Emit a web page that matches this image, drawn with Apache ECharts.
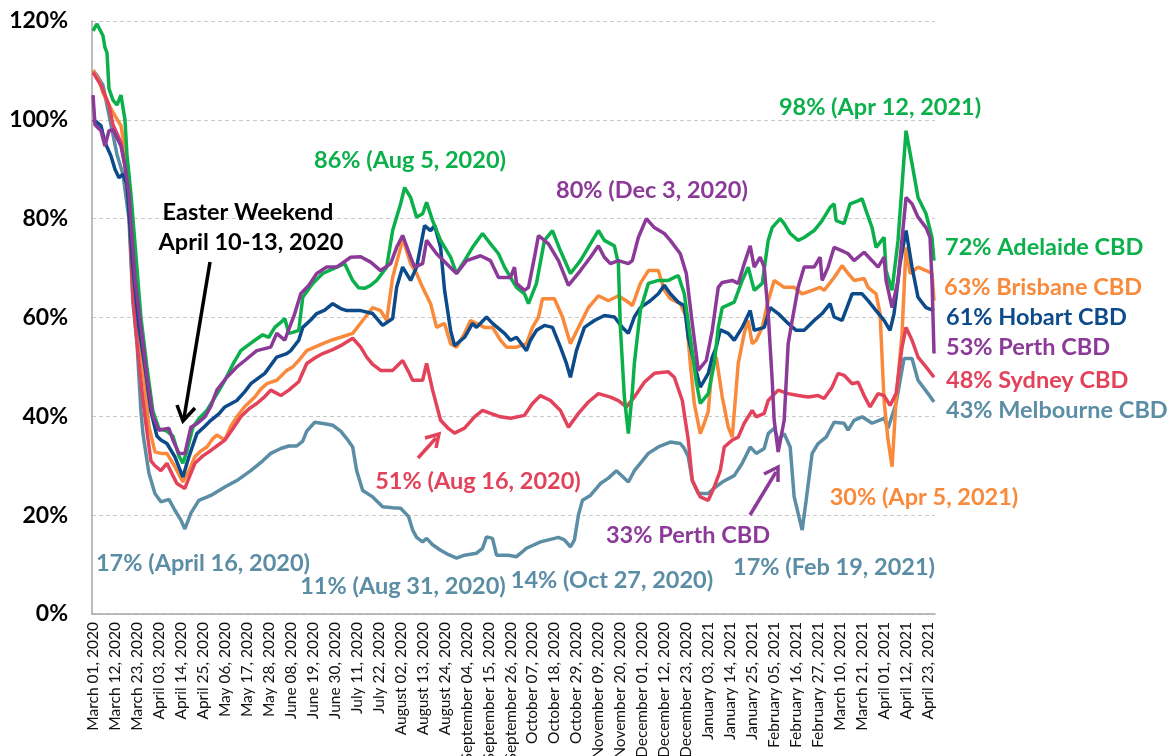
<!DOCTYPE html>
<html>
<head>
<meta charset="utf-8">
<script src="https://cdn.jsdelivr.net/npm/echarts@6/dist/echarts.min.js"></script>
<style>
html,body{margin:0;padding:0;background:#fff;}
#chart{width:1171px;height:756px;}
</style>
</head>
<body>
<div id="chart"></div>
<script>
// ---- categories: daily from March 1, 2020 (422 days) ----
const START = Date.UTC(2020, 2, 1);
const N_DAYS = 422;
const MONTHS = ['January','February','March','April','May','June','July','August','September','October','November','December'];
const categories = [];
for (let i = 0; i < N_DAYS; i++) {
  const d = new Date(START + i * 86400000);
  const dd = String(d.getUTCDate()).padStart(2, '0');
  categories.push(MONTHS[d.getUTCMonth()] + ' ' + dd + ', ' + d.getUTCFullYear());
}

// ---- series values: [day index since Mar 1 2020, % of baseline] ----
const adelaide = [[0,118],[2,119.4],[5,117],[6,114.6],[7,113.6],[8,106.3],[10,104],[12,103],[14,105],[16,100],[17,93],[19,85],[21,75],[24,60],[27,50],[30,41],[33,37.5],[37,37],[40,36],[43,32],[45,30.5],[47,33],[50,37.8],[53,39.5],[57,41.2],[62,44.5],[66,47.3],[70,50.5],[74,53.3],[78,54.5],[81,55.4],[85,56.5],[88,56],[91,58],[94,59],[96,59.8],[98,56.8],[100,57],[103,57.4],[105,64.1],[110,66.9],[115,68.9],[122,70.2],[126,70.9],[130,67.5],[133,66],[136,65.9],[139,66.5],[142,67.5],[147,70.2],[150,77.6],[154,83],[156,86.3],[159,84.3],[162,80.3],[165,81],[167,83.3],[170,79.6],[174,75.6],[179,72.2],[182,68.9],[186,71.5],[190,74.2],[195,77],[199,74.9],[203,72.9],[206,70.2],[209,68.1],[212,66.1],[216,64.8],[218,62.8],[222,66.9],[226,75.6],[230,77.6],[234,73.5],[239,68.9],[244,71.5],[249,74.9],[253,77.6],[256,75.6],[261,74.5],[263,70.9],[264,58],[266,43.9],[268,36.5],[270,45],[271,50.7],[274,61.4],[278,66.9],[283,67.5],[288,67.5],[293,68.5],[296,64.8],[299,56],[302,47],[304,42.6],[308,44.6],[311,50.7],[313,58],[315,62],[321,63.1],[325,67.5],[328,70.2],[331,65.5],[335,66.9],[338,75.6],[340,78.2],[344,80],[346,79],[349,77],[353,75.6],[356,76.2],[361,77.6],[365,79.6],[369,82.3],[371,83],[372,79.6],[376,79],[379,83],[383,83.6],[385,84],[387,81.6],[390,78.2],[392,74.2],[396,76.2],[397,69.5],[400,65.5],[403,75.6],[407,97.8],[410,91.1],[413,84.3],[417,81],[420,76.2],[421,71.5]];

const brisbane = [[0,110],[3,108],[5,105.5],[8,103],[10,101.5],[14,98.8],[16,94],[18,86],[21,64],[23,57],[26,46],[28,38],[31,32.8],[34,32.5],[37,32.5],[41,29.8],[45,26.7],[48,29],[51,31.8],[54,33],[57,33.8],[60,35.5],[62,36.2],[66,35.2],[69,38],[72,39.9],[76,42],[81,43.9],[84,45.5],[87,46.6],[92,47.3],[97,49.3],[100,50],[103,51.3],[107,53.3],[111,54],[115,54.7],[120,55.5],[124,56],[130,56.8],[135,59.4],[140,62],[144,61.4],[147,59.4],[150,68.1],[154,74.2],[155,76.2],[159,70.9],[162,68.9],[165,66.1],[169,62.8],[172,58],[176,58.8],[179,54.7],[182,54],[186,56.8],[189,59.4],[196,58],[200,58],[204,55.4],[207,54],[212,54],[217,54.7],[220,58],[223,60.1],[225,63.8],[231,63.8],[235,60.1],[239,54.7],[244,58.8],[248,62],[253,64.4],[258,63.4],[263,64.4],[268,63.1],[270,62.4],[274,66.9],[278,69.5],[283,69.5],[286,65.5],[289,63.8],[294,62.8],[297,60.1],[299,50.7],[301,42.6],[304,36.5],[306,38.6],[308,41],[310,50.7],[312,52],[315,43.9],[318,37.8],[320,35.8],[323,50.7],[326,56.8],[328,59.4],[330,54.7],[332,55.4],[335,58],[338,63.4],[341,67.5],[346,66.1],[351,66.1],[355,64.8],[360,65.5],[364,66.1],[366,65.5],[371,68.1],[375,70.5],[378,68.9],[381,67.5],[386,67.9],[388,66.1],[392,64.8],[394,60.8],[396,43.2],[398,35.2],[400,29.8],[402,43.2],[405,56.8],[407,74.2],[409,68.9],[413,70.2],[417,69.5],[420,68.9],[421,63.4]];

const hobart = [[0,100],[2,99.5],[4,98.8],[6,95.4],[9,92.7],[11,90],[13,88.3],[15,89],[17,87],[20,70],[23,58],[26,50],[29,41],[32,36],[34,35.2],[37,34.5],[41,31.8],[45,27.7],[48,31.8],[52,36.5],[56,38],[59,39.2],[63,40.5],[66,41.9],[72,43.2],[76,45],[79,46.6],[86,48.7],[92,52],[97,52.7],[99,53.3],[103,55.4],[105,58],[109,59.5],[112,60.8],[116,61.5],[120,62.8],[124,61.8],[127,61.4],[134,61.4],[140,60.8],[145,58.4],[150,59.8],[152,66.1],[155,70.2],[159,67.5],[162,70.2],[166,78.6],[169,77.6],[171,78.6],[174,74.2],[176,65.5],[179,57.4],[181,54.3],[186,56],[190,58.8],[192,58],[197,60.1],[200,58.8],[206,56.8],[209,55.4],[212,56],[217,53.3],[219,55.4],[222,57.4],[226,58.4],[230,58],[234,54],[237,50.7],[239,47.9],[242,53.3],[246,58],[251,59.4],[256,60.4],[261,60.1],[265,58],[268,56.8],[271,60.1],[274,62],[279,63.4],[283,64.8],[286,66.5],[289,64.8],[293,63.1],[296,62.4],[298,56],[301,50.7],[304,45.9],[306,47.3],[308,48.7],[310,52],[312,54],[314,57.5],[318,56.8],[321,55.4],[325,58],[329,61.4],[331,57.4],[336,58],[339,62],[343,60.8],[348,58.8],[352,57.4],[356,57.4],[361,59.4],[365,60.8],[369,62.8],[371,60.1],[375,59.4],[380,64.8],[385,64.8],[388,63.4],[392,61.4],[396,59.4],[399,57.4],[401,60.8],[404,70.9],[407,77.6],[410,70.2],[413,64.1],[417,62],[421,61.4]];

const perth = [[0,105],[1,99],[4,97.8],[6,94.7],[8,97.8],[10,98],[14,94.7],[16,90.7],[18,85],[21,68],[24,58],[27,48],[30,40],[33,37.2],[38,37.6],[40,35.2],[43,32.5],[46,32.5],[49,37.8],[52,38.5],[56,39.9],[59,42],[62,45.3],[67,47.9],[72,50],[76,51.3],[82,53.3],[89,54],[92,56.8],[96,55.4],[101,60.8],[104,64.8],[108,66.5],[112,68.9],[117,70.2],[122,70.2],[129,72.2],[134,72.3],[139,71.2],[144,69.5],[149,70.9],[152,74.2],[155,76.6],[159,72.2],[161,70.2],[165,70.9],[167,75.6],[172,72.9],[177,70.9],[182,68.9],[187,71.5],[194,72.5],[199,71.5],[203,68.1],[209,68.1],[211,70.2],[212,66.9],[216,65.5],[218,66.1],[221,72.2],[223,76.6],[228,74.9],[233,71.5],[238,66.5],[244,69.5],[249,72.2],[253,74.5],[256,72.2],[259,70.9],[263,71.5],[268,70.9],[270,71.5],[273,76.2],[277,80],[281,78.2],[286,77],[289,75.6],[294,72.9],[297,68.9],[300,58.8],[303,49.3],[307,51.3],[310,57.4],[313,66.1],[315,67.1],[320,67.5],[323,66.9],[326,70.9],[329,74.5],[331,70.2],[334,72.2],[336,70.2],[338,60.8],[340,47.3],[341,39.2],[343,32.8],[346,39.2],[348,54.7],[350,59.4],[353,66.1],[356,70.2],[361,70.2],[364,72.2],[365,67.5],[368,70.2],[371,74.2],[375,73.5],[378,72.9],[381,71.5],[386,73.2],[390,71.5],[393,70.2],[396,72.2],[397,67.5],[400,62],[403,67.5],[407,84.3],[410,83],[413,80.3],[417,78.2],[419,76.2],[420,67.5],[421,52.7]];

const sydney = [[0,109.6],[4,107],[8,103],[10,99],[14,95.4],[16,90.7],[18,82],[20,64],[22,55],[24,47],[26,40],[29,31],[31,30],[34,29],[37,30.5],[40,28],[42,26.4],[46,25.4],[48,27.5],[51,30.5],[55,32],[59,33.1],[62,34],[66,35.2],[70,37.5],[74,39.9],[78,41.5],[82,42.6],[86,44],[89,45.3],[94,44.2],[98,45.3],[103,47],[107,50.7],[111,51.8],[115,52.7],[120,53.5],[124,54.3],[130,55.8],[134,54],[137,52],[140,50.5],[144,49.3],[150,49.3],[155,51.3],[158,49],[160,47.3],[165,47.3],[167,50.7],[170,45.3],[174,39.2],[178,37.5],[181,36.6],[186,37.6],[191,39.9],[195,41.2],[199,40.6],[204,39.9],[209,39.6],[216,40.2],[220,42.6],[224,44.2],[229,43.2],[234,41.2],[238,37.8],[243,40.6],[248,42.9],[253,44.6],[259,43.9],[263,43.2],[267,41.9],[271,43.9],[276,46.9],[281,48.7],[288,49],[291,47.9],[295,43.2],[298,35.2],[300,27],[304,23.7],[308,23],[311,25.7],[314,29],[316,33.8],[320,35.2],[323,35.8],[326,38.6],[330,41.2],[332,39.9],[336,40.6],[338,43.2],[343,45.3],[348,44.6],[353,44.2],[358,43.9],[363,44.2],[366,43.6],[370,45.9],[373,48.7],[376,48.3],[380,46.6],[383,46.9],[386,44.2],[389,41.9],[393,44.6],[396,44.2],[399,42.2],[402,44.6],[405,54],[407,58],[410,55.4],[413,52],[417,50],[421,47.9]];

const melbourne = [[0,110],[2,109],[5,107],[8,101],[12,93],[15,89],[18,80],[20,63],[22,55],[24,41],[25,36.5],[28,28.5],[31,24.4],[34,22.7],[38,23.2],[41,21],[44,19],[46,17.2],[49,20.4],[53,23],[59,24],[66,25.7],[72,27],[79,29],[85,31],[89,32.5],[94,33.5],[98,34],[102,34],[105,35],[107,37],[111,38.8],[116,38.5],[120,38.2],[124,37],[127,35.5],[130,33.8],[132,29],[135,25],[140,23.7],[145,21.7],[150,21.5],[154,21.4],[158,19.7],[160,17],[162,15.5],[165,14.6],[167,15.3],[170,14],[174,12.9],[178,12],[182,11.3],[186,11.9],[192,12.3],[195,13.3],[197,15.6],[200,15.3],[202,11.9],[208,11.9],[212,11.6],[217,13.3],[224,14.6],[230,15.2],[233,15.5],[236,15],[239,13.6],[241,15],[243,20],[245,23],[249,24],[254,26.4],[258,27.5],[262,29],[268,26.7],[271,29],[275,31],[278,32.5],[283,33.8],[289,34.8],[294,34.5],[296,33.5],[298,31.8],[300,27],[303,24.4],[308,24.4],[311,25.5],[315,26.7],[321,28],[325,30.5],[329,33.8],[332,32.5],[336,33.5],[338,36.5],[341,37.6],[343,35.2],[346,36.5],[349,33.8],[351,23.7],[355,17],[357,23],[360,32.5],[363,34.5],[367,35.8],[371,38.8],[376,38.6],[378,37.2],[381,39.2],[385,39.9],[390,38.6],[396,39.6],[398,37.6],[402,42.6],[406,51.7],[410,51.7],[413,47.3],[418,44.6],[421,42.9]];

const yTicks = [0, 20, 40, 60, 80, 100, 120];

const COL = {
  adelaide: '#0BB04B',
  brisbane: '#F98A3C',
  hobart: '#0C4A8A',
  perth: '#8B3A98',
  sydney: '#E2425A',
  melbourne: '#5B8DA5'
};

const FONT = 'Lato, "Open Sans", sans-serif';
const ANN = 23.5;

function line(name, data, color, z) {
  return {
    name: name, type: 'line', data: data, showSymbol: false, symbol: 'none',
    lineStyle: { color: color, width: 3.5 }, itemStyle: { color: color },
    z: z, animation: false, silent: true
  };
}

function txt(t, x, y, color, size, align) {
  return {
    type: 'text', z: 100,
    style: {
      text: t, x: x, y: y, fill: color,
      font: 'bold ' + (size || ANN) + 'px ' + FONT,
      textAlign: align || 'center', textVerticalAlign: 'middle', verticalAlign: 'middle'
    }
  };
}
function seg(x1, y1, x2, y2, color) {
  return { type: 'line', z: 100, shape: { x1: x1, y1: y1, x2: x2, y2: y2 }, style: { stroke: color, lineWidth: 3.5 } };
}
function head(pts, color) {
  return { type: 'polyline', z: 100, shape: { points: pts }, style: { stroke: color, lineWidth: 3.5, fill: null } };
}

const chart = echarts.init(document.getElementById('chart'), null, { renderer: 'canvas' });
chart.setOption({
  animation: false,
  backgroundColor: '#ffffff',
  grid: { left: 92, right: 236, top: 21, bottom: 142, containLabel: false, outerBoundsMode: 'none' },
  xAxis: {
    type: 'category', data: categories, boundaryGap: true,
    axisLine: { lineStyle: { color: '#A6A6A6', width: 1.5 } },
    axisTick: { interval: 0, length: 5, lineStyle: { color: '#A6A6A6' } },
    axisLabel: { interval: 10, rotate: 90, fontSize: 15.5, color: '#111', fontFamily: FONT, margin: 8, hideOverlap: false },
    splitLine: { show: false }
  },
  yAxis: {
    type: 'value', min: yTicks[0], max: yTicks[yTicks.length - 1], interval: 20,
    axisLine: { show: true, lineStyle: { color: '#A6A6A6', width: 1.5 } },
    axisTick: { show: false },
    axisLabel: { formatter: '{value}%', fontSize: 23, fontWeight: 'bold', color: '#000', fontFamily: FONT, margin: 24 },
    splitLine: { show: true, lineStyle: { color: '#C9C9C9', type: [4, 3], width: 1 } }
  },
  series: [
    line('Melbourne CBD', melbourne, COL.melbourne, 2),
    line('Brisbane CBD', brisbane, COL.brisbane, 3),
    line('Sydney CBD', sydney, COL.sydney, 4),
    line('Hobart CBD', hobart, COL.hobart, 5),
    line('Adelaide CBD', adelaide, COL.adelaide, 6),
    line('Perth CBD', perth, COL.perth, 7)
  ],
  graphic: [
    txt('Easter Weekend', 248, 212, '#000'),
    txt('April 10-13, 2020', 251, 242, '#000'),
    seg(210, 262, 184, 418, '#000'),
    head([[177, 405], [183, 421], [195, 408]], '#000'),
    txt('86% (Aug 5, 2020)', 410, 160, COL.adelaide),
    txt('80% (Dec 3, 2020)', 652, 190, COL.perth),
    txt('98% (Apr 12, 2021)', 880, 107, COL.adelaide),
    txt('72% Adelaide CBD', 945, 247, COL.adelaide, ANN, 'left'),
    txt('63% Brisbane CBD', 944, 287, COL.brisbane, ANN, 'left'),
    txt('61% Hobart CBD', 946, 317, COL.hobart, ANN, 'left'),
    txt('53% Perth CBD', 946, 347, COL.perth, ANN, 'left'),
    txt('48% Sydney CBD', 946, 380, COL.sydney, ANN, 'left'),
    txt('43% Melbourne CBD', 946, 410, COL.melbourne, ANN, 'left'),
    txt('51% (Aug 16, 2020)', 478, 481, COL.sydney),
    seg(418, 458, 436, 438, COL.sydney),
    head([[425, 438], [439, 434], [436, 448]], COL.sydney),
    txt('30% (Apr 5, 2021)', 924, 497, COL.brisbane),
    txt('33% Perth CBD', 688, 535, COL.perth),
    seg(750, 515, 776, 472, COL.perth),
    head([[764, 474], [778, 467], [778, 482]], COL.perth),
    txt('17% (April 16, 2020)', 203, 563, COL.melbourne),
    txt('11% (Aug 31, 2020)', 403, 586, COL.melbourne),
    txt('14% (Oct 27, 2020)', 612, 580, COL.melbourne),
    txt('17% (Feb 19, 2021)', 834, 567, COL.melbourne)
  ]
});
</script>
</body>
</html>
